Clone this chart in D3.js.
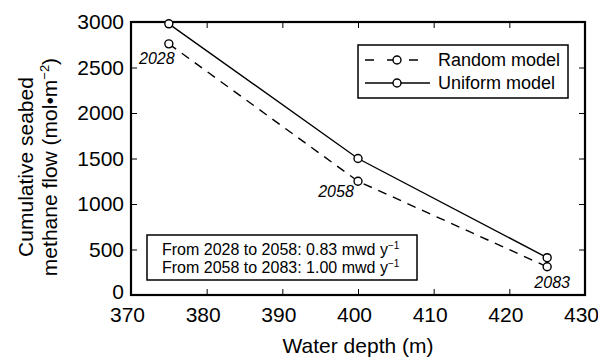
<!DOCTYPE html>
<html>
<head>
<meta charset="utf-8">
<script src="https://cdn.jsdelivr.net/npm/d3@7"></script>
<style>
body { margin: 0; background: #fff; }
text { font-family: "Liberation Sans", Arial, sans-serif; fill: #000; }
</style>
</head>
<body>
<div class="container"></div>
<script>
const WIDTH = 598;
const HEIGHT = 360;
const MARGIN = {top: 22, right: 13, bottom: 65, left: 131};

var depths = [375, 400, 425];
var years = ['2028', '2058', '2083'];
var randomModel = [2760, 1250, 310];
var uniformModel = [2980, 1500, 410];
var xTicks = [370, 380, 390, 400, 410, 420, 430];
var yTicks = [0, 500, 1000, 1500, 2000, 2500, 3000];
var notes = ['From 2028 to 2058: 0.83 mwd y', 'From 2058 to 2083: 1.00 mwd y'];

var svg = d3.select('.container').append('svg')
	.attr('width', WIDTH)
	.attr('height', HEIGHT);

var w = WIDTH - MARGIN.left - MARGIN.right;
var h = HEIGHT - MARGIN.top - MARGIN.bottom;

var xScale = d3.scaleLinear().domain([370, 430]).range([0, w]);
var yScale = d3.scaleLinear().domain([0, 3000]).range([h, 0]);

var g = svg.append('g')
	.attr('transform', 'translate(' + MARGIN.left + ',' + MARGIN.top + ')');

// inward ticks on all four sides
var fmt = d3.format('d');
var axes = [
	{ax: d3.axisBottom(xScale).tickValues(xTicks), t: 'translate(0,' + h + ')', labels: true, pad: 12},
	{ax: d3.axisTop(xScale).tickValues(xTicks), t: 'translate(0,0)', labels: false, pad: 0},
	{ax: d3.axisLeft(yScale).tickValues(yTicks), t: 'translate(0,0)', labels: true, pad: 7},
	{ax: d3.axisRight(yScale).tickValues(yTicks), t: 'translate(' + w + ',0)', labels: false, pad: 0}
];
axes.forEach(function(a, i){
	var ag = g.append('g').attr('transform', a.t)
		.call(a.ax.tickFormat(fmt).tickSizeInner(-6).tickSizeOuter(0).tickPadding(a.pad));
	ag.select('.domain').remove();
	ag.selectAll('line').attr('stroke', '#000').attr('stroke-width', 1);
	if (a.labels) {
		ag.selectAll('text').style('font-size', '21px').attr('fill', '#000');
		if (i === 0) ag.selectAll('text').attr('dx', -4);
		if (i === 2) ag.selectAll('text').filter(function(d){ return d === 0; }).attr('dy', '0.15em');
	} else {
		ag.selectAll('text').remove();
	}
});
g.selectAll('.tick').filter(function(d){ return d === 370 || d === 430 || d === 0 || d === 3000; })
	.select('line').remove();

g.append('rect')
	.attr('width', w).attr('height', h)
	.attr('fill', 'none').attr('stroke', '#000').attr('stroke-width', 2.2);

var line = d3.line()
	.x(function(d, i){ return xScale(depths[i]); })
	.y(function(d){ return yScale(d); });

var series = [
	{values: randomModel, dash: '9,7'},
	{values: uniformModel, dash: null}
];

series.forEach(function(s){
	g.append('path').datum(s.values)
		.attr('d', line)
		.attr('fill', 'none')
		.attr('stroke', '#000')
		.attr('stroke-width', 1.4)
		.attr('stroke-dasharray', s.dash);
	g.selectAll(null).data(s.values).enter().append('circle')
		.attr('cx', function(d, i){ return xScale(depths[i]); })
		.attr('cy', function(d){ return yScale(d); })
		.attr('r', 4)
		.attr('fill', '#fff')
		.attr('stroke', '#000')
		.attr('stroke-width', 1.4);
});

// year labels
var yearOffset = [[-12, 20], [-22, 16], [5, 21]];
g.selectAll('.year').data(years).enter().append('text')
	.attr('class', 'year')
	.attr('x', function(d, i){ return xScale(depths[i]) + yearOffset[i][0]; })
	.attr('y', function(d, i){ return yScale(randomModel[i]) + yearOffset[i][1]; })
	.attr('text-anchor', 'middle')
	.style('font-size', '16px')
	.style('font-style', 'italic')
	.text(function(d){ return d; });

// legend
var leg = g.append('g').attr('transform', 'translate(' + (358 - MARGIN.left) + ',' + (45 - MARGIN.top) + ')');
leg.append('rect').attr('width', 210).attr('height', 53)
	.attr('fill', '#fff').attr('stroke', '#000').attr('stroke-width', 1.5);
var legItems = [{name: 'Random model', dash: '9,13'}, {name: 'Uniform model', dash: null}];
legItems.forEach(function(it, i){
	var y = 15 + i * 23;
	leg.append('line').attr('x1', 7).attr('x2', 72).attr('y1', y).attr('y2', y)
		.attr('stroke', '#000').attr('stroke-width', 1.4).attr('stroke-dasharray', it.dash);
	leg.append('circle').attr('cx', 39).attr('cy', y).attr('r', 4)
		.attr('fill', '#fff').attr('stroke', '#000').attr('stroke-width', 1.4);
	leg.append('text').attr('x', 80).attr('y', y + 6)
		.style('font-size', '18px').text(it.name);
});

// rate note box
var note = g.append('g').attr('transform', 'translate(' + (147 - MARGIN.left) + ',' + (235 - MARGIN.top) + ')');
note.append('rect').attr('width', 270).attr('height', 45)
	.attr('fill', '#fff').attr('stroke', '#000').attr('stroke-width', 1.5);
notes.forEach(function(n, i){
	var t = note.append('text').attr('x', 15).attr('y', 20 + i * 18)
		.style('font-size', '16px').text(n);
	t.append('tspan').attr('dy', -6).style('font-size', '10px').text('\u22121');
});

// axis titles
svg.append('text')
	.attr('x', MARGIN.left + w / 2).attr('y', 353)
	.attr('text-anchor', 'middle').style('font-size', '21px')
	.text('Water depth (m)');

var yt = svg.append('text')
	.attr('transform', 'translate(0,167) rotate(-90)')
	.attr('text-anchor', 'middle').style('font-size', '21px');
yt.append('tspan').attr('x', 0).attr('y', 33).text('Cumulative seabed');
yt.append('tspan').attr('x', 0).attr('y', 57).text('methane flow (mol\u2022m')
	.append('tspan').attr('dy', -8).style('font-size', '13px').text('\u22122')
	.select(function(){ return this.parentNode; })
	.append('tspan').attr('dy', 8).text(')');
</script>
</body>
</html>
